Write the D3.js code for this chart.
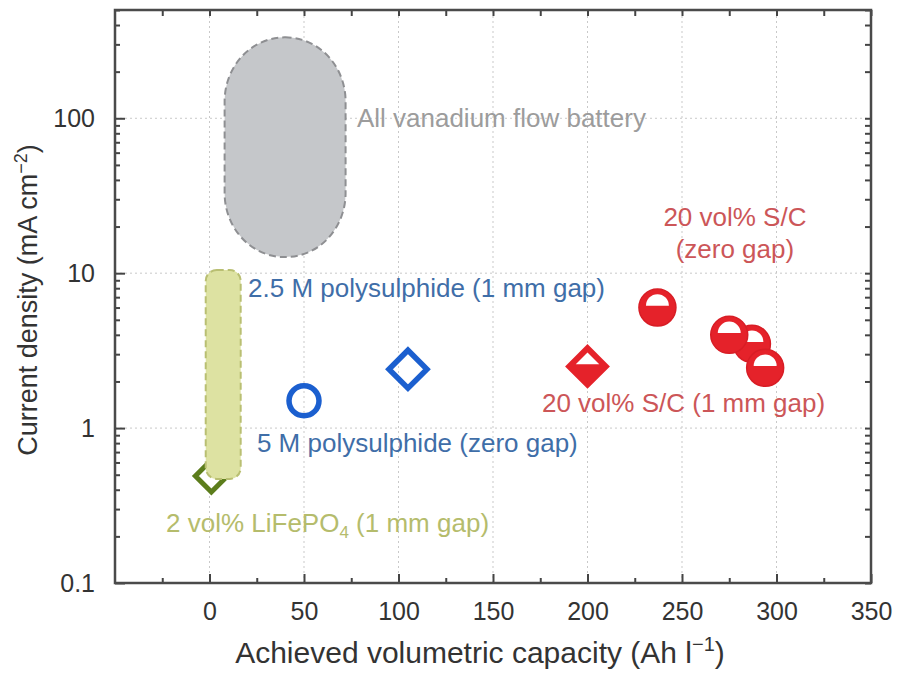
<!DOCTYPE html>
<html>
<head>
<meta charset="utf-8">
<script src="https://cdnjs.cloudflare.com/ajax/libs/d3/7.8.5/d3.min.js"></script>
<style>
body { margin: 0; background: #fff; }
svg { display: block; font-family: "Liberation Sans", Arial, Helvetica, sans-serif; }
.axis .domain { display: none; }
.axis line { stroke: #444; stroke-width: 2; }
.axis text { fill: #333; font-size: 25px; }
.grid line { stroke: #c9c9c9; stroke-width: 1; stroke-dasharray: 2,3; }
</style>
</head>
<body>
<div id="chart"></div>
<script>
// axis ticks
var xTicks = [0, 50, 100, 150, 200, 250, 300, 350];
var xMinorTicks = [-25, 25, 75, 125, 175, 225, 275, 325];
var yTicks = [0.1, 1, 10, 100];
var yTickLabels = ['0.1', '1', '10', '100'];
var xGrid = [0, 50, 100, 150, 200, 250, 300];
var yGrid = [1, 10, 100];

// shaded regions: [xmin, xmax], [ymin, ymax]
var regionNames = ['All vanadium flow battery', '2 vol% LiFePO4 (1 mm gap)'];
var regionX = [[8, 72], [-2, 16.5]];
var regionY = [[12.7, 333], [0.47, 10.5]];

// measured points
var lfpPoints = [{x: 1, y: 0.49}];
var polyZeroGap = [{x: 50, y: 1.5}];
var polyOneMm = [{x: 105, y: 2.4}];
var scOneMm = [{x: 200, y: 2.5}];
var scZeroGap = [{x: 287, y: 3.5}, {x: 275, y: 4}, {x: 237, y: 6}, {x: 294, y: 2.45}];

// annotation anchors (data coords)
var noteText = ['All vanadium flow battery', '2.5 M polysulphide (1 mm gap)', '5 M polysulphide (zero gap)',
    '20 vol% S/C (1 mm gap)', '20 vol% S/C', '(zero gap)'];
var noteX = [78, 20.4, 25.1, 175.9, 278, 278];
var noteY = [88, 7.02, 0.70, 1.27, 20.2, 12.5];
var noteColor = ['#9c9c9c', '#3f6ea8', '#3f6ea8', '#cc5658', '#cc5658', '#cc5658'];
var noteAnchor = ['start', 'start', 'start', 'start', 'middle', 'middle'];

var width = 898, height = 673;

var x = d3.scaleLinear().domain([-50, 350]).range([115, 871]);
var y = d3.scaleLog().domain([0.1, 500]).range([583, 10]);

var yMinor = [];
[0.1, 1, 10, 100].forEach(function (d) {
    for (var k = 2; k <= 9; k++) {
        if (d * k <= 500) yMinor.push(d * k);
    }
});

var svg = d3.select('#chart').append('svg')
    .attr('width', width)
    .attr('height', height);

// grid
svg.append('g').attr('class', 'grid')
    .selectAll('line.v').data(xGrid).enter().append('line')
    .attr('x1', function (d) { return x(d); })
    .attr('x2', function (d) { return x(d); })
    .attr('y1', y.range()[0]).attr('y2', y.range()[1]);

svg.append('g').attr('class', 'grid')
    .selectAll('line.h').data(yGrid).enter().append('line')
    .attr('y1', function (d) { return y(d); })
    .attr('y2', function (d) { return y(d); })
    .attr('x1', x.range()[0]).attr('x2', x.range()[1]);

var diamond = function (cx, cy, s) {
    return 'M' + cx + ',' + (cy - s) + 'L' + (cx + s) + ',' + cy + 'L' + cx + ',' + (cy + s) + 'L' + (cx - s) + ',' + cy + 'Z';
};

// LiFePO4 open diamond sits under the yellow region
svg.selectAll('.lfp').data(lfpPoints).enter().append('path')
    .attr('class', 'lfp')
    .attr('d', function (d) { return diamond(x(d.x), y(d.y), 16); })
    .attr('fill', '#fff')
    .attr('stroke', '#5c7d1c')
    .attr('stroke-width', 5);

// regions
var regionFill = ['#c5c7ca', '#dde2a2'];
var regionStroke = ['#8e8f92', '#b9bf72'];
var regionR = [[60, 64], [11, 11]];

regionNames.forEach(function (name, i) {
    var x0 = x(regionX[i][0]), x1 = x(regionX[i][1]);
    var y0 = y(regionY[i][1]), y1 = y(regionY[i][0]);
    svg.append('rect')
        .attr('class', 'region')
        .attr('x', x0).attr('y', y0)
        .attr('width', x1 - x0).attr('height', y1 - y0)
        .attr('rx', regionR[i][0]).attr('ry', regionR[i][1])
        .attr('fill', regionFill[i])
        .attr('stroke', regionStroke[i])
        .attr('stroke-width', 2)
        .attr('stroke-dasharray', '7,4');
});

// polysulphide markers
svg.selectAll('.poly-c').data(polyZeroGap).enter().append('circle')
    .attr('cx', function (d) { return x(d.x); })
    .attr('cy', function (d) { return y(d.y); })
    .attr('r', 15)
    .attr('fill', 'none')
    .attr('stroke', '#1b5fcf')
    .attr('stroke-width', 5.5);

svg.selectAll('.poly-d').data(polyOneMm).enter().append('path')
    .attr('d', function (d) { return diamond(x(d.x), y(d.y), 19); })
    .attr('fill', 'none')
    .attr('stroke', '#1b5fcf')
    .attr('stroke-width', 5.5);

// S/C markers, half filled
var red = '#e5222a';

svg.selectAll('.sc-d').data(scOneMm).enter().append('g')
    .each(function (d) {
        var cx = x(d.x), cy = y(d.y), s = 21;
        var g = d3.select(this);
        g.append('path').attr('d', diamond(cx, cy, s))
            .attr('fill', red).attr('stroke', red).attr('stroke-width', 2);
        g.append('path')
            .attr('d', 'M' + cx + ',' + (cy - s * 0.66) + 'L' + (cx + s * 0.56) + ',' + (cy - s * 0.1) +
                'L' + (cx - s * 0.56) + ',' + (cy - s * 0.1) + 'Z')
            .attr('fill', '#fff');
    });

svg.selectAll('.sc-c').data(scZeroGap).enter().append('g')
    .each(function (d) {
        var cx = x(d.x), cy = y(d.y), r = 18.5;
        var g = d3.select(this);
        g.append('circle').attr('cx', cx).attr('cy', cy).attr('r', r)
            .attr('fill', red).attr('stroke', '#d81d25').attr('stroke-width', 1.5);
        var a = r * 0.62, b = r * 0.1;
        g.append('path')
            .attr('d', 'M' + (cx - a) + ',' + (cy - b) + 'A' + a + ',' + a + ' 0 0 1 ' + (cx + a) + ',' + (cy - b) + 'Z')
            .attr('fill', '#fff');
    });

// annotations
noteText.forEach(function (t, i) {
    svg.append('text')
        .attr('x', x(noteX[i]))
        .attr('y', y(noteY[i]))
        .attr('text-anchor', noteAnchor[i])
        .attr('fill', noteColor[i])
        .style('font-size', '26px')
        .text(t);
});

var lfpNote = svg.append('text')
    .attr('x', x(-23))
    .attr('y', y(0.2134))
    .attr('fill', '#b5bc6c')
    .style('font-size', '26px');
lfpNote.append('tspan').text('2 vol% LiFePO');
lfpNote.append('tspan').attr('dy', 6).style('font-size', '17px').text('4');
lfpNote.append('tspan').attr('dy', -6).text(' (1 mm gap)');

// axes
svg.append('g').attr('class', 'axis')
    .attr('transform', 'translate(0,' + y.range()[0] + ')')
    .call(d3.axisBottom(x).tickValues(xTicks).tickSize(-9).tickPadding(19).tickFormat(d3.format('d')));

svg.append('g').attr('class', 'axis')
    .attr('transform', 'translate(0,' + y.range()[0] + ')')
    .call(d3.axisBottom(x).tickValues(xMinorTicks).tickSize(-5).tickFormat(''));

svg.append('g').attr('class', 'axis')
    .attr('transform', 'translate(0,' + y.range()[1] + ')')
    .call(d3.axisTop(x).tickValues(xTicks.concat(xMinorTicks)).tickSize(-6).tickFormat(''));

svg.append('g').attr('class', 'axis')
    .attr('transform', 'translate(' + x.range()[0] + ',0)')
    .call(d3.axisLeft(y).tickValues(yTicks).tickSize(-10).tickPadding(20)
        .tickFormat(function (d, i) { return yTickLabels[i]; }));

svg.append('g').attr('class', 'axis')
    .attr('transform', 'translate(' + x.range()[0] + ',0)')
    .call(d3.axisLeft(y).tickValues(yMinor).tickSize(-5).tickFormat(''));

svg.append('g').attr('class', 'axis')
    .attr('transform', 'translate(' + x.range()[1] + ',0)')
    .call(d3.axisRight(y).tickValues(yTicks.concat(yMinor)).tickSize(-6).tickFormat(''));

// frame
svg.append('rect')
    .attr('x', x.range()[0]).attr('y', y.range()[1])
    .attr('width', x.range()[1] - x.range()[0])
    .attr('height', y.range()[0] - y.range()[1])
    .attr('fill', 'none')
    .attr('stroke', '#4a4a4a')
    .attr('stroke-width', 2.5);

// axis titles
var xTitle = svg.append('text')
    .attr('x', 480).attr('y', 663)
    .attr('text-anchor', 'middle')
    .attr('fill', '#333')
    .style('font-size', '30px');
xTitle.append('tspan').text('Achieved volumetric capacity (Ah l');
xTitle.append('tspan').attr('dy', -12).style('font-size', '20px').text('\u22121');
xTitle.append('tspan').attr('dy', 12).text(')');

var yTitle = svg.append('text')
    .attr('transform', 'translate(37,300) rotate(-90)')
    .attr('text-anchor', 'middle')
    .attr('fill', '#333')
    .style('font-size', '27px');
yTitle.append('tspan').text('Current density (mA cm');
yTitle.append('tspan').attr('dy', -10).style('font-size', '18px').text('\u22122');
yTitle.append('tspan').attr('dy', 10).text(')');
</script>
</body>
</html>
